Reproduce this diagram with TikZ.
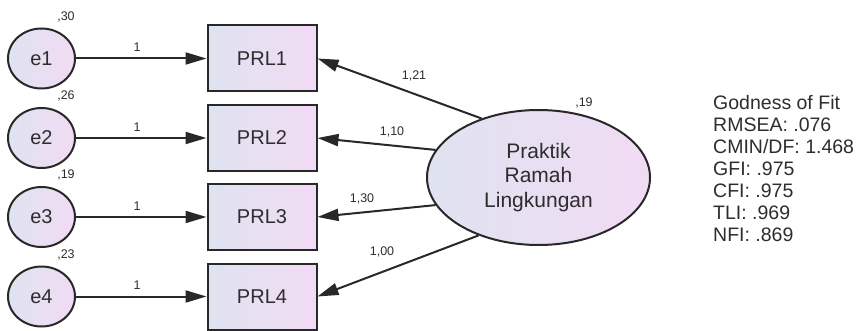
\documentclass[tikz,border=0pt]{standalone}
\usepackage{fontspec}
\setmainfont{Liberation Sans}
\usetikzlibrary{arrows.meta,shapes.geometric}

\definecolor{fillL}{RGB}{223,227,240}
\definecolor{fillR}{RGB}{241,219,244}
\definecolor{ink}{RGB}{40,40,40}
\definecolor{txt}{RGB}{45,45,45}

\tikzset{
  obs/.style={rectangle, draw=ink, line width=2pt, left color=fillL, right color=fillR,
    minimum width=109pt, minimum height=66pt, inner sep=0pt, text=txt,
    font=\fontsize{20}{24}\selectfont},
  err/.style={ellipse, draw=ink, line width=2pt, left color=fillL, right color=fillR,
    minimum width=67pt, minimum height=60pt, inner sep=0pt, text=txt,
    font=\fontsize{20}{24}\selectfont},
  latent/.style={ellipse, draw=ink, line width=2pt, left color=fillL, right color=fillR,
    minimum width=223pt, minimum height=135pt, inner sep=0pt, align=center, text=txt,
    font=\fontsize{21}{24.5}\selectfont},
  path/.style={draw=ink, line width=2pt, -{Triangle[length=21pt,width=12pt]}},
  est/.style={text=txt, inner sep=0pt, font=\fontsize{12.5}{14}\selectfont},
}

\begin{document}
\begin{tikzpicture}[x=1pt, y=-1pt]
  \useasboundingbox (0,0) rectangle (861,331);

  % error terms and indicators
  \foreach \i/\y/\v in {1/58.5/{,30}, 2/138/{,26}, 3/217/{,19}, 4/296.5/{,23}} {
    \node[err] (e\i) at (41.5,\y) {e\i};
    \node[obs] (prl\i) at (262,\y) {PRL\i};
    \node[est] (v\i) at (66,\y-42) {\v};
    \draw[path] (e\i.east) -- (prl\i.west);
    \node[est] (w\i) at (137,\y-11) {1};
  }

  % latent construct
  \node[latent] (pr) at (538.5,177.5) {Praktik\\Ramah\\Lingkungan};
  \node[est] (vpr) at (584,103) {,19};

  % loadings
  \draw[path] (pr.134) -- (prl1.east);
  \draw[path] (pr.165) -- (prl2.east);
  \draw[path] (pr.195) -- (prl3.east);
  \draw[path] (pr.224) -- (prl4.east);
  \node[est] (l1) at (414,76) {1,21};
  \node[est] (l2) at (392,132) {1,10};
  \node[est] (l3) at (362,199) {1,30};
  \node[est] (l4) at (382,252) {1,00};

  % fit indices
  \node[anchor=north west, inner sep=0pt, align=left, text=txt,
        font=\fontsize{19.5}{22}\selectfont] (fit) at (713,95)
    {Godness of Fit\\RMSEA: .076\\CMIN/DF: 1.468\\GFI: .975\\CFI: .975\\TLI: .969\\NFI: .869};
\end{tikzpicture}
\end{document}
